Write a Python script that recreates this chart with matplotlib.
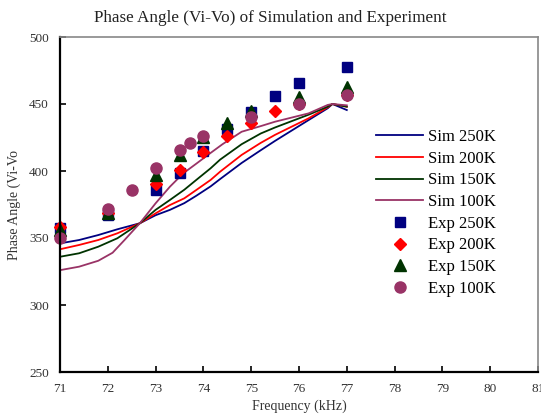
import matplotlib
matplotlib.use("Agg")
import matplotlib.pyplot as plt

plt.rcParams['font.family'] = ['Liberation Serif', 'DejaVu Serif']

# Simulation curves (frequency kHz, phase angle)
sim_freq = [71.0, 71.4, 71.8, 72.2, 72.67, 73.0, 73.3, 73.6, 73.85, 74.15, 74.35, 74.8, 75.2, 75.5, 76.2, 76.6, 76.7, 77.0]
sim_250 = [346.0, 348.5, 352.2, 356.5, 361.0, 367.0, 371.0, 376.0, 381.5, 388.5, 394.0, 406.0, 415.5, 422.5, 438.0, 446.8, 450.0, 445.5]
sim_200 = [341.6, 344.8, 348.5, 353.5, 361.0, 368.4, 374.6, 379.6, 385.8, 393.3, 399.5, 412.0, 421.0, 427.0, 439.3, 447.5, 450.0, 448.0]
sim_150 = [336.0, 338.6, 343.5, 349.8, 361.0, 371.0, 378.4, 386.0, 393.3, 402.0, 408.5, 420.0, 428.0, 432.5, 442.0, 448.0, 450.0, 448.0]
sim_100_freq = [71.0, 71.4, 71.8, 72.1, 72.35, 72.67, 73.0, 73.3, 73.58, 73.86, 74.14, 74.4, 74.8, 75.2, 75.5, 76.2, 76.6, 76.7, 77.0]
sim_100 = [326.0, 328.6, 333.0, 339.0, 348.5, 361.0, 375.9, 388.3, 398.3, 405.7, 413.2, 420.0, 429.3, 433.5, 436.8, 443.0, 449.3, 450.0, 449.0]

# Experimental points
exp250_f = [71, 72, 73, 73.5, 74, 74.5, 75, 75.5, 76, 77]
exp250_v = [357.5, 367.0, 386.0, 398.8, 415.0, 431.3, 444.3, 456.0, 465.4, 477.4]
exp200_f = [71, 72, 73, 73.5, 74, 74.5, 75, 75.5, 76, 77]
exp200_v = [358.5, 369.0, 390.0, 400.7, 414.0, 426.0, 435.6, 444.8, 450.0, 457.0]
exp150_f = [71, 72, 73, 73.5, 74, 74.5, 75, 76, 77]
exp150_v = [356.0, 369.0, 397.0, 412.0, 425.0, 435.6, 445.0, 455.5, 463.0]
exp100_f = [71, 72, 72.5, 73, 73.5, 73.72, 74, 75, 76, 77]
exp100_v = [350.0, 372.0, 385.8, 402.5, 415.7, 421.0, 426.0, 440.0, 450.0, 456.7]

x_ticks = list(range(71, 82))
y_ticks = [250, 300, 350, 400, 450, 500]

c_blue = '#000080'
c_red = '#FF0000'
c_green = '#003300'
c_purple = '#993366'

fig = plt.figure(figsize=(5.41, 4.15), dpi=100)
ax = fig.add_axes([60/541, 1-372/415, 478/541, 335/415])

ax.plot(sim_freq, sim_250, color=c_blue, lw=1.3, label='Sim 250K')
ax.plot(sim_freq, sim_200, color=c_red, lw=1.3, label='Sim 200K')
ax.plot(sim_freq, sim_150, color=c_green, lw=1.3, label='Sim 150K')
ax.plot(sim_100_freq, sim_100, color=c_purple, lw=1.3, label='Sim 100K')

ax.plot(exp250_f, exp250_v, ls='none', marker='s', ms=7.5, color=c_blue, label='Exp 250K', clip_on=False)
ax.plot(exp200_f, exp200_v, ls='none', marker='D', ms=6.5, color=c_red, label='Exp 200K', clip_on=False)
ax.plot(exp150_f, exp150_v, ls='none', marker='^', ms=8, color=c_green, label='Exp 150K', clip_on=False)
ax.plot(exp100_f, exp100_v, ls='none', marker='o', ms=8, color=c_purple, label='Exp 100K', clip_on=False)

ax.set_xlim(71, 81)
ax.set_ylim(250, 500)
ax.set_xticks(x_ticks)
ax.set_yticks(y_ticks)
ax.tick_params(direction='in', length=4, width=1.2, labelsize=9.5, labelcolor='#333333', pad=8)

for s in ['left', 'bottom']:
    ax.spines[s].set_linewidth(1.6)
    ax.spines[s].set_color('black')
for s in ['top', 'right']:
    ax.spines[s].set_linewidth(1.2)
    ax.spines[s].set_color('#888888')

ax.set_xlabel('Frequency (kHz)', fontsize=10, color='#333333', labelpad=3)
ax.set_ylabel('Phase Angle (Vi-Vo', fontsize=10, color='#333333', labelpad=6)
fig.text(0.5, 1-18/415, 'Phase Angle (Vi-Vo) of Simulation and Experiment',
         ha='center', va='center', fontsize=12.3, color='#222222')

ax.legend(loc='upper left', bbox_to_anchor=(0.662, 0.725), frameon=False,
          fontsize=12, handlelength=2.8, labelspacing=0.34, borderpad=0,
          handletextpad=0.3, borderaxespad=0)

fig.savefig('out.png', dpi=100)
